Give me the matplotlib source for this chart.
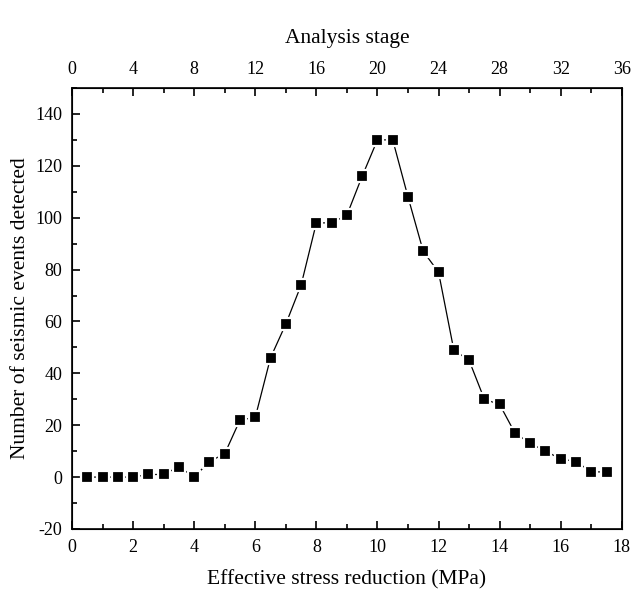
import matplotlib
matplotlib.use("Agg")
import matplotlib.pyplot as plt
from matplotlib.ticker import MultipleLocator

plt.rcParams['font.family'] = ['Liberation Serif', 'DejaVu Serif']
plt.rcParams['axes.unicode_minus'] = False

stress = [0.5, 1.0, 1.5, 2.0, 2.5, 3.0, 3.5, 4.0, 4.5, 5.0, 5.5, 6.0, 6.5, 7.0,
          7.5, 8.0, 8.5, 9.0, 9.5, 10.0, 10.5, 11.0, 11.5, 12.0, 12.5, 13.0,
          13.5, 14.0, 14.5, 15.0, 15.5, 16.0, 16.5, 17.0, 17.5]
events = [0, 0, 0, 0, 1, 1, 4, 0, 6, 9, 22, 23, 46, 59, 74, 98, 98, 101, 116,
          130, 130, 108, 87, 79, 49, 45, 30, 28, 17, 13, 10, 7, 6, 2, 2]

fig = plt.figure(figsize=(6.32, 5.93), dpi=100)
ax = fig.add_axes([0.1139, 0.108, 0.870, 0.7436])

ax.plot(stress, events, color='black', lw=0.9, marker='s', markersize=9,
        markerfacecolor='black', markeredgecolor='white', markeredgewidth=1.6)

ax.set_xlim(0, 18)
ax.set_ylim(-20, 150)
ax.xaxis.set_major_locator(MultipleLocator(2))
ax.xaxis.set_minor_locator(MultipleLocator(1))
ax.yaxis.set_minor_locator(MultipleLocator(10))
ax.set_yticks(range(-20, 141, 20))
ax.tick_params(which='both', direction='in', top=False, right=False, labelsize=13, width=1.2)
ax.tick_params(which='major', length=6, pad=7)
ax.tick_params(which='minor', length=3.5)
for s in ax.spines.values():
    s.set_linewidth(1.2)

ax.set_xlabel('Effective stress reduction (MPa)', fontsize=15.5, labelpad=10)
ax.set_ylabel('Number of seismic events detected', fontsize=15.5, labelpad=4)

ax2 = ax.twiny()
ax2.set_xlim(0, 36)
ax2.xaxis.set_major_locator(MultipleLocator(4))
ax2.xaxis.set_minor_locator(MultipleLocator(2))
ax2.tick_params(which='both', direction='in', labelsize=13, width=1.2)
ax2.tick_params(which='major', length=6, pad=7)
ax2.tick_params(which='minor', length=3.5)
ax2.set_xlabel('Analysis stage', fontsize=15.5, labelpad=13)

fig.savefig('out.png', dpi=100)
